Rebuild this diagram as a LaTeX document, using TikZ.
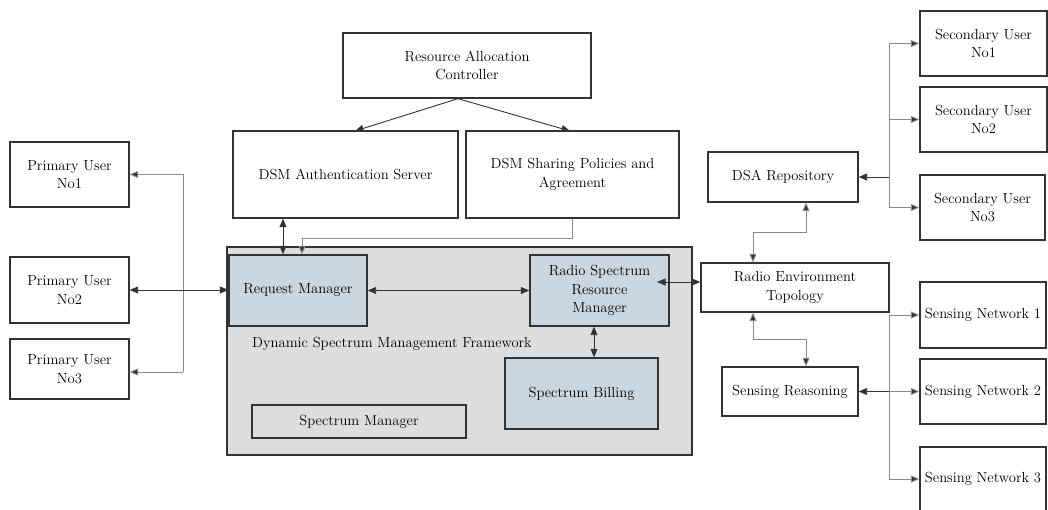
\documentclass[tikz,border=0pt]{standalone}
\usetikzlibrary{arrows.meta,calc}
\definecolor{bordc}{HTML}{333333}
\definecolor{busc}{HTML}{8A8A8A}
\definecolor{fwfill}{HTML}{DCDDDF}
\definecolor{bluefill}{HTML}{C9D5DF}
\begin{document}
\begin{tikzpicture}[x=1pt,y=-1pt,
  every node/.style={font=\fontsize{14.6}{18.5}\selectfont, text=black},
  box/.style={draw=bordc, line width=1.3pt, fill=white, align=center, inner sep=2pt},
  bbox/.style={box, fill=bluefill},
  conn/.style={draw=bordc, line width=0.9pt},
  bus/.style={draw=busc, line width=0.9pt},
  tip/.style={-{Triangle[length=8.5pt,width=7pt,fill=bordc]}},
  tips/.style={{Triangle[length=8.5pt,width=7pt,fill=bordc]}-{Triangle[length=8.5pt,width=7pt,fill=bordc]}}
]
\useasboundingbox (0,0) rectangle (1048,510);
\fill[white] (0,0) rectangle (1048,510);

% framework
\node[box, fill=fwfill, minimum width=465pt, minimum height=208pt] (fw) at (459.5,351) {};
\node[anchor=west, inner sep=0pt] (fwlabel) at (252,344) {Dynamic Spectrum Management Framework};

% top boxes
\node[box, minimum width=248pt, minimum height=65pt] (rac) at (467,65.5) {Resource Allocation\\Controller};
\node[box, minimum width=225pt, minimum height=87pt] (auth) at (345.5,174.5) {DSM Authentication Server};
\node[box, minimum width=213pt, minimum height=87pt] (share) at (572.5,174.5) {DSM Sharing Policies and\\Agreement};

% inner boxes
\node[bbox, minimum width=138pt, minimum height=71pt] (rm) at (298,290.5) {Request Manager};
\node[bbox, minimum width=139pt, minimum height=71pt] (rsrm) at (599.5,290.5) {Radio Spectrum\\Resource\\Manager};
\node[bbox, minimum width=153pt, minimum height=71pt] (bill) at (581.5,393.5) {Spectrum Billing};
\node[box, fill=fwfill, minimum width=214pt, minimum height=33pt] (smgr) at (359,421.5) {Spectrum Manager};

% primary users
\node[box, minimum width=119pt, minimum height=65pt] (pu1) at (69.5,174.5) {Primary User\\No1};
\node[box, minimum width=119pt, minimum height=66pt] (pu2) at (69.5,290) {Primary User\\No2};
\node[box, minimum width=119pt, minimum height=60pt] (pu3) at (69.5,369) {Primary User\\No3};

% right side
\node[box, minimum width=150pt, minimum height=50pt] (dsa) at (783,177) {DSA Repository};
\node[box, minimum width=127pt, minimum height=65pt] (su1) at (983.5,43.5) {Secondary User\\No1};
\node[box, minimum width=127pt, minimum height=65pt] (su2) at (983.5,119.5) {Secondary User\\No2};
\node[box, minimum width=125pt, minimum height=65pt] (su3) at (982.5,207.5) {Secondary User\\No3};
\node[box, minimum width=188pt, minimum height=49pt] (ret) at (795,287.5) {Radio Environment\\Topology};
\node[box, minimum width=136pt, minimum height=49pt] (sr) at (790,391.5) {Sensing Reasoning};
\node[box, minimum width=126pt, minimum height=66pt] (sn1) at (983,315) {Sensing Network 1};
\node[box, minimum width=126pt, minimum height=65pt] (sn2) at (983,391.5) {Sensing Network 2};
\node[box, minimum width=126pt, minimum height=64pt] (sn3) at (983,479) {Sensing Network 3};

% helper coordinates
\coordinate (xa) at (283,0);
\coordinate (xb) at (302,0);
\coordinate (xc) at (572,0);
\coordinate (xbill) at (594,0);
\coordinate (pbus) at (183,0);
\coordinate (rbus) at (889,0);
\coordinate (xd) at (806,0);
\coordinate (xe) at (753,0);
\coordinate (racout) at ($(rac.south)+(-9,0)$);
\coordinate (rsrmin) at (657,282);

% RAC to servers
\draw[conn, tip] (racout) -- (355,131);
\draw[conn, tip] (racout) -- (570,131);

% auth <-> request manager
\draw[conn, tips] (auth.south -| xa) -- (rm.north -| xa);
% sharing -> request manager
\draw[bus, tip] (share.south -| xc) -- ++(0,20) -| (rm.north -| xb);

% RM <-> RSRM
\draw[conn, tips] (rm.east) -- (rsrm.west);
% RSRM <-> billing
\draw[conn, tips] (rsrm.south -| xbill) -- (bill.north -| xbill);
% RSRM <-> RET
\draw[conn, tips] (rsrmin) -- (ret.west |- rsrmin);

% primary user bus
\draw[bus] (pbus |- pu1.east) -- (pbus |- 0,372);
\draw[bus, tip] (pbus |- pu1.east) -- (pu1.east);
\draw[bus, tip] (pbus |- 0,372) -- (pu3.east |- 0,372);
\draw[conn, tips] (pu2.east) -- (rm.west |- pu2.east);

% secondary user bus
\draw[bus] (rbus |- su1.west) -- (rbus |- su3.west);
\draw[bus, tip] (rbus |- su1.west) -- (su1.west);
\draw[bus, tip] (rbus |- su2.west) -- (su2.west);
\draw[bus, tip] (rbus |- su3.west) -- (su3.west);
\draw[conn, tip] (rbus |- dsa.east) -- (dsa.east);

% DSA <-> RET
\draw[bus, tips] (dsa.south -| xd) |- (xe |- 0,232) -- (ret.north -| xe);
% RET <-> SR
\draw[bus, tips] (ret.south -| xe) |- (xd |- 0,339) -- (sr.north -| xd);

% sensing bus
\draw[bus] (rbus |- sn1.west) -- (rbus |- sn3.west);
\draw[bus, tip] (rbus |- sn1.west) -- (sn1.west);
\draw[bus, tip] (rbus |- sn2.west) -- (sn2.west);
\draw[bus, tip] (rbus |- sn3.west) -- (sn3.west);
\draw[conn, tip] (rbus |- sr.east) -- (sr.east);
\end{tikzpicture}
\end{document}
